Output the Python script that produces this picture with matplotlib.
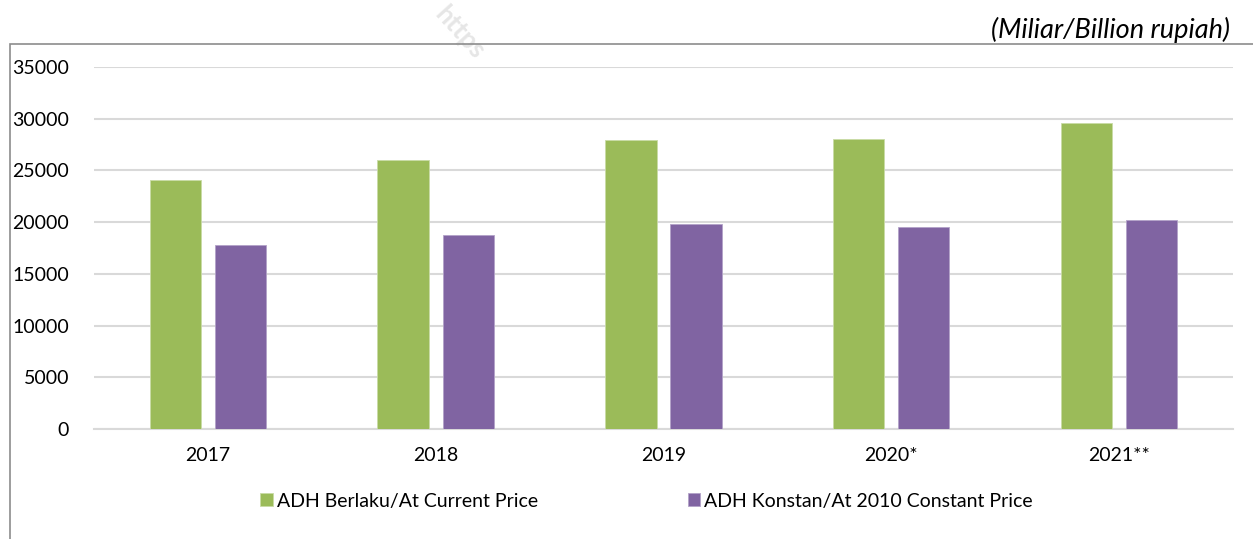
import matplotlib.pyplot as plt
import numpy as np
from matplotlib.patches import Rectangle

plt.rcParams['font.family'] = ['Lato', 'DejaVu Sans']

years = ['2017', '2018', '2019', '2020*', '2021**']
current_price = [24080, 26000, 27950, 28000, 29550]
constant_price = [17800, 18760, 19830, 19500, 20240]

green = '#9BBB59'
purple = '#8064A2'

fig = plt.figure(figsize=(12.53, 5.39), dpi=100)
ax = fig.add_axes([0.075, 0.204, 0.909, 0.672])

x = np.arange(len(years))
w = 0.225
ax.bar(x - 0.143, current_price, w, color=green, edgecolor='#c9dba6', linewidth=0.6,
       label='ADH Berlaku/At Current Price', zorder=3)
ax.bar(x + 0.143, constant_price, w, color=purple, edgecolor='#b3a2c8', linewidth=0.6,
       label='ADH Konstan/At 2010 Constant Price', zorder=3)

ax.set_xlim(-0.5, len(years) - 0.5)
ax.set_ylim(0, 35000)
ax.set_yticks(range(0, 35001, 5000))
ax.set_xticks(x)
ax.set_xticklabels(years)
ax.grid(axis='y', color='#d9d9d9', linewidth=1.5, zorder=0)
for s in ['top', 'right', 'left']:
    ax.spines[s].set_visible(False)
ax.spines['bottom'].set_color('#d9d9d9')
ax.spines['bottom'].set_linewidth(1.5)
ax.tick_params(axis='both', length=0, labelsize=14, colors='black')
ax.tick_params(axis='y', pad=18)
ax.tick_params(axis='x', pad=13)

fig.legend(loc='center', bbox_to_anchor=(0.516, 0.07), ncol=2, frameon=False,
           fontsize=14, handlelength=0.65, handleheight=0.65, handletextpad=0.2,
           columnspacing=7.7)

# outer chart border (extends past the right and bottom edges)
fig.patches.append(Rectangle((10 / 1253, -0.05), 1.2, 0.05 + 1 - 44 / 539,
                             transform=fig.transFigure, fill=False,
                             edgecolor='#8c8c8c', linewidth=1.2))

fig.text(0.982, 0.945, '(Miliar/Billion rupiah)', ha='right', va='center',
         fontsize=19.5, style='italic')

# faint watermark
fig.text(0.367, 0.94, 'https', rotation=-48, fontsize=19, fontweight='bold',
         color='#e6e6e6', ha='center', va='center', zorder=0)

fig.savefig('out.png', dpi=100)
